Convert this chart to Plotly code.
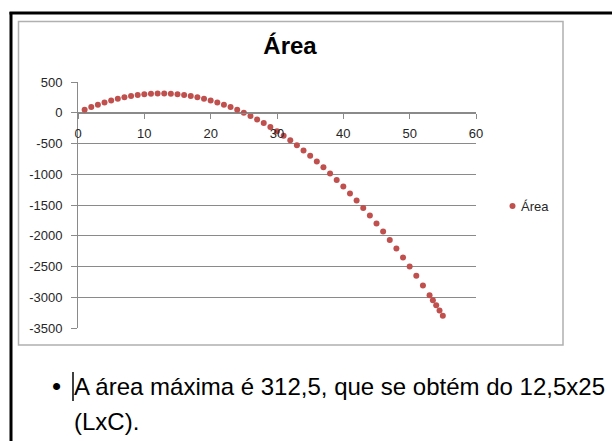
import plotly.graph_objects as go

# Lado L do retângulo e a área correspondente (L x C)
lado = [1, 2, 3, 4, 5, 6, 7, 8, 9, 10, 11, 12, 13, 14, 15, 16, 17, 18, 19, 20,
        21, 22, 23, 24, 25, 26, 27, 28, 29, 30, 31, 32, 33, 34, 35, 36, 37, 38,
        39, 40, 41, 42, 43, 44, 45, 46, 47, 48, 49, 50, 51, 52, 53, 53.5, 54,
        54.5, 55]
area = [48, 92, 132, 168, 200, 228, 252, 272, 288, 300, 308, 312, 312, 308,
        300, 288, 272, 252, 228, 200, 168, 132, 92, 48, 0, -52, -108, -168,
        -232, -300, -372, -448, -528, -612, -700, -792, -888, -988, -1092,
        -1200, -1312, -1428, -1548, -1672, -1800, -1932, -2068, -2208, -2352,
        -2500, -2652, -2808, -2968, -3049.5, -3132, -3215.5, -3300]

x_ticks = [0, 10, 20, 30, 40, 50, 60]
y_ticks = [500, 0, -500, -1000, -1500, -2000, -2500, -3000, -3500]
y_tick_text = ["500", "0", "-500", "-1000", "-1500", "-2000", "-2500",
               "-3000", "-3500"]

serie_nome = "Área"
titulo = "Área"
texto_linha1 = "A área máxima é 312,5, que se obtém do 12,5x25"
texto_linha2 = "(LxC)."

# Page geometry (pixels)
W, H = 612, 441
L_M, R_M, T_M, B_M = 78, 136, 82, 113
PW = W - L_M - R_M
PH = H - T_M - B_M


def fx(xp):
    return (xp - L_M) / PW


def fy(yp):
    return (H - B_M - yp) / PH


FONT = "Liberation Sans, Arial, sans-serif"
GRID = "#8a8a8a"
RED = "#C0504D"
TXT = "#262626"

y_min, y_max = min(y_ticks), max(y_ticks)

fig = go.Figure(
    go.Scatter(
        x=lado, y=area, mode="markers", name=serie_nome,
        marker=dict(color=RED, size=6, line=dict(width=0)),
        showlegend=False, cliponaxis=False,
    )
)

fig.update_layout(
    width=W, height=H, autosize=False,
    margin=dict(l=L_M, r=R_M, t=T_M, b=B_M, pad=0),
    paper_bgcolor="white", plot_bgcolor="white",
    font=dict(family=FONT, color=TXT, size=13),
    title=dict(text="<b>" + titulo + "</b>", x=290 / W, y=1 - 46 / H,
               xref="container", yref="container",
               xanchor="center", yanchor="middle",
               font=dict(family=FONT, size=24, color="#000000")),
    xaxis=dict(
        range=[x_ticks[0], x_ticks[-1]], tickvals=x_ticks,
        anchor="free", position=(0 - y_min) / (y_max - y_min),
        showgrid=False, zeroline=False,
        showline=True, linecolor=GRID, linewidth=1,
        ticks="outside", ticklen=5, tickcolor=GRID, tickwidth=1,
        ticklabelstandoff=4,
        tickfont=dict(size=13, color=TXT),
    ),
    yaxis=dict(
        range=[y_min, y_max], tickvals=y_ticks, ticktext=y_tick_text,
        showgrid=True, gridcolor=GRID, gridwidth=1, zeroline=False,
        showline=True, linecolor=GRID, linewidth=1,
        ticks="outside", ticklen=6, tickcolor=GRID, tickwidth=1,
        ticklabelstandoff=6,
        tickfont=dict(size=13, color=TXT),
    ),
    showlegend=False,
)

shapes = [
    # chart frame
    dict(type="rect", xref="paper", yref="paper",
         x0=fx(18.5), x1=fx(563), y0=fy(21.5), y1=fy(345),
         line=dict(color="#b0b0b0", width=1.5), layer="below"),
    # outer document border
    dict(type="line", xref="paper", yref="paper",
         x0=fx(11), x1=fx(11), y0=fy(12), y1=fy(450),
         line=dict(color="#000000", width=3)),
    dict(type="line", xref="paper", yref="paper",
         x0=fx(9.5), x1=fx(620), y0=fy(13), y1=fy(13),
         line=dict(color="#000000", width=3)),
    # legend key
    dict(type="circle", xref="paper", yref="paper",
         x0=fx(509.5), x1=fx(515.5), y0=fy(203), y1=fy(209),
         fillcolor=RED, line=dict(width=0)),
    # text caret
    dict(type="line", xref="paper", yref="paper",
         x0=fx(73), x1=fx(73), y0=fy(372), y1=fy(401),
         line=dict(color="#000000", width=1.5)),
]

annotations = [
    dict(text=serie_nome, xref="paper", yref="paper", x=fx(519), y=fy(206),
         xanchor="left", yanchor="middle", showarrow=False,
         font=dict(size=13, color=TXT, family=FONT)),
    dict(text="•", xref="paper", yref="paper", x=fx(56), y=fy(386),
         xanchor="center", yanchor="middle", showarrow=False,
         font=dict(size=26, color="#000000", family=FONT)),
    dict(text=texto_linha1, xref="paper", yref="paper", x=fx(72), y=fy(386),
         xanchor="left", yanchor="middle", showarrow=False,
         font=dict(size=24, color="#000000", family=FONT)),
    dict(text=texto_linha2, xref="paper", yref="paper", x=fx(72), y=fy(421),
         xanchor="left", yanchor="middle", showarrow=False,
         font=dict(size=24, color="#000000", family=FONT)),
]

fig.update_layout(shapes=shapes, annotations=annotations)

fig.write_html("out.html")
